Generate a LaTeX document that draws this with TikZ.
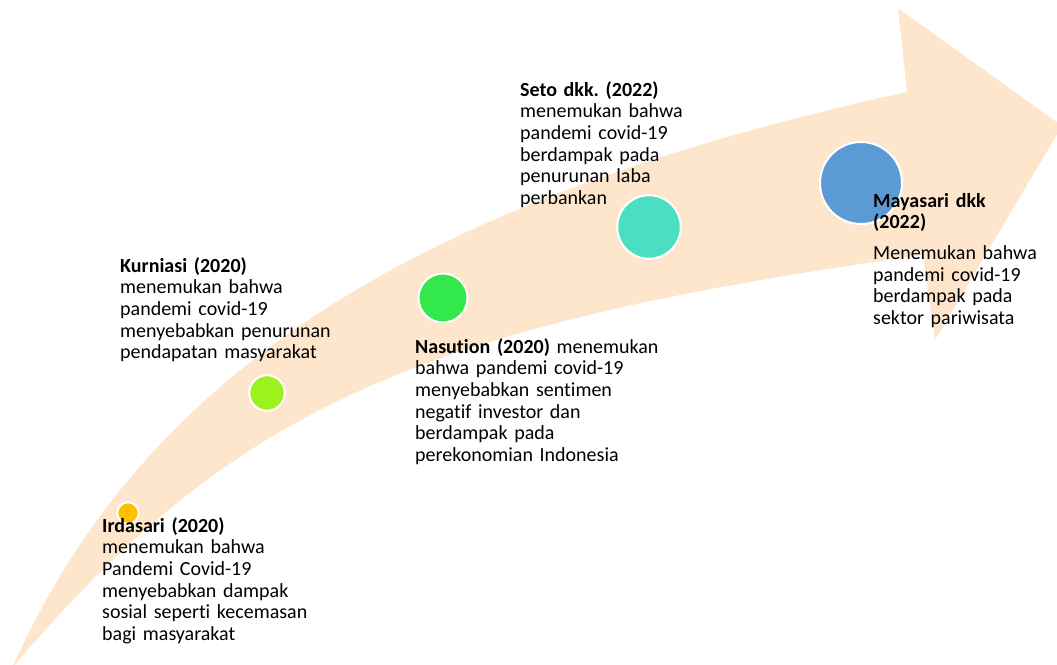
\documentclass[tikz,border=0pt]{standalone}
\usepackage{fontspec}
\setmainfont{Carlito}[Ligatures=NoCommon]
\frenchspacing
\definecolor{peach}{RGB}{254,230,204}
\definecolor{cOrange}{RGB}{255,192,0}
\definecolor{cLime}{RGB}{155,242,30}
\definecolor{cGreen}{RGB}{51,232,74}
\definecolor{cTeal}{RGB}{74,222,195}
\definecolor{cBlue}{RGB}{91,155,213}
\tikzset{
  dot/.style={circle, draw=white, line width=2pt, inner sep=0pt},
  note/.style={anchor=base west, inner sep=0pt, text width=#1, align=left,
    font=\fontsize{20}{21.7}\selectfont},
  note/.default=260pt
}
\begin{document}
\begin{tikzpicture}[x=1pt,y=-1pt]
 \useasboundingbox (0,0) rectangle (1057,664);
 \clip (0,0) rectangle (1057,664);
 % the big curved arrow
 \fill[peach] (12,668) .. controls (144,373) and (413,200) .. (907,92)
   -- (898,8) -- (1062,126) -- (935,340) -- (923,255)
   .. controls (414,326) and (232,409) .. (12,668) -- cycle;

 \node (Ird) [dot, fill=cOrange, minimum size=21.5pt] at (128,513) {};
 \node (Kur) [dot, fill=cLime, minimum size=35.5pt] at (267,393) {};
 \node (Nas) [dot, fill=cGreen, minimum size=49pt] at (443,298) {};
 \node (Set) [dot, fill=cTeal, minimum size=63.5pt] at (649,227) {};
 \node (May) [dot, fill=cBlue, minimum size=82pt] at (861,183) {};

 \node (IrdT) [note] at (102,532) {\textbf{Irdasari (2020)}\\ menemukan bahwa\\ Pandemi Covid-19\\ menyebabkan dampak\\ sosial seperti kecemasan\\ bagi masyarakat};
 \node (KurT) [note] at (120,272) {\textbf{Kurniasi (2020)}\\ menemukan bahwa\\ pandemi covid-19\\ menyebabkan penurunan\\ pendapatan masyarakat};
 \node (NasT) [note] at (415,353) {\textbf{Nasution (2020)} menemukan\\ bahwa pandemi covid-19\\ menyebabkan sentimen\\ negatif investor dan\\ berdampak pada\\ perekonomian Indonesia};
 \node (SetT) [note] at (520,96) {\textbf{Seto dkk. (2022)}\\ menemukan bahwa\\ pandemi covid-19\\ berdampak pada\\ penurunan laba\\ perbankan};
 \node (MayT) [note=180pt] at (873,207) {\textbf{Mayasari dkk}\\ \textbf{(2022)}\\[9pt] Menemukan bahwa\\ pandemi covid-19\\ berdampak pada\\ sektor pariwisata};
\end{tikzpicture}
\end{document}
